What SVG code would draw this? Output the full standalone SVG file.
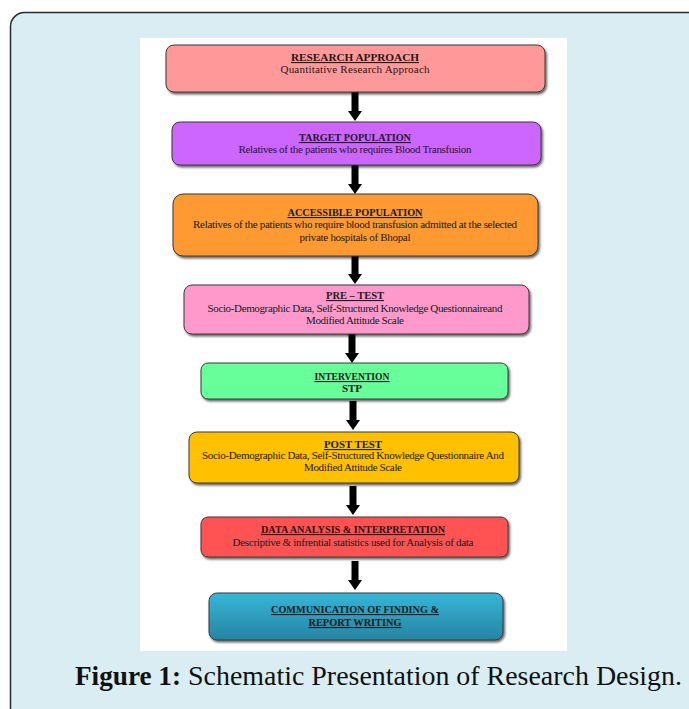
<svg xmlns="http://www.w3.org/2000/svg" width="689" height="709" viewBox="0 0 689 709">
<style>
.box{stroke:#3a3a3a;stroke-width:1;filter:url(#sh)}
.t{font-family:"Liberation Serif","Times New Roman",serif;font-size:11px;fill:#1a1a1a;text-anchor:middle}
.h{font-weight:bold;text-decoration:underline}
.cap{font-family:"Liberation Serif","DejaVu Serif",serif;font-size:27.5px;fill:#111}
</style>
<defs>
<filter id="sh" x="-5%" y="-20%" width="112%" height="150%">
<feDropShadow dx="1.5" dy="2" stdDeviation="1" flood-color="#000" flood-opacity="0.6"/>
</filter>
<linearGradient id="bl" x1="0" y1="0" x2="0" y2="1">
<stop offset="0" stop-color="#36B6D8"/>
<stop offset="1" stop-color="#2684A2"/>
</linearGradient>
<path id="arr" d="M-3.5 0 H3.5 V19 H7 L0 29 L-7 19 H-3.5 Z" fill="#000"/>
</defs>
<rect x="10.5" y="12.5" width="720" height="720" rx="14" fill="#D9EDF2" stroke="#2b2b2b" stroke-width="1.5"/>
<rect x="140" y="38" width="427" height="613" fill="#fff"/>

<g id="connectors">
<use href="#arr" x="355" y="92"/>
<use href="#arr" x="355" y="165"/>
<use href="#arr" x="355" y="255"/>
<use href="#arr" x="352" y="334"/>
<use href="#arr" x="353" y="401"/>
<use href="#arr" x="353" y="486"/>
<use href="#arr" x="355" y="561"/>
</g>

<g id="n1">
<rect class="box" x="166" y="45" width="379" height="47" rx="8" fill="#FF9999"/>
<text class="t h" x="355" y="61" textLength="128" lengthAdjust="spacingAndGlyphs">RESEARCH APPROACH</text>
<text class="t" x="355" y="73" textLength="149">Quantitative Research Approach</text>
</g>
<g id="n2">
<rect class="box" x="172" y="122" width="369" height="43" rx="8" fill="#CC66FF"/>
<text class="t h" x="355" y="141" textLength="112" lengthAdjust="spacingAndGlyphs">TARGET POPULATION</text>
<text class="t" x="355" y="153" textLength="233">Relatives of the patients who requires Blood Transfusion</text>
</g>
<g id="n3">
<rect class="box" x="173" y="194" width="365" height="62" rx="10" fill="#FF9933"/>
<text class="t h" x="355" y="216" textLength="135" lengthAdjust="spacingAndGlyphs">ACCESSIBLE POPULATION</text>
<text class="t" x="355" y="228" textLength="324">Relatives of the patients who require blood transfusion admitted at the selected</text>
<text class="t" x="355" y="241" textLength="111">private hospitals of Bhopal</text>
</g>
<g id="n4">
<rect class="box" x="184" y="285" width="345" height="49" rx="8" fill="#FF99CC"/>
<text class="t h" x="355" y="299" textLength="58" lengthAdjust="spacingAndGlyphs">PRE – TEST</text>
<text class="t" x="355" y="312" textLength="295">Socio-Demographic  Data, Self-Structured Knowledge Questionnaireand</text>
<text class="t" x="355" y="324" textLength="98">Modified Attitude Scale</text>
</g>
<g id="n5">
<rect class="box" x="201" y="363" width="307" height="36" rx="7" fill="#66FF99"/>
<text class="t h" x="352" y="380" textLength="75" lengthAdjust="spacingAndGlyphs">INTERVENTION</text>
<text class="t" x="352" y="392" font-weight="bold">STP</text>
</g>
<g id="n6">
<rect class="box" x="189" y="432" width="330" height="51" rx="8" fill="#FFC000"/>
<text class="t h" x="353" y="448" textLength="58" lengthAdjust="spacingAndGlyphs">POST TEST</text>
<text class="t" x="353" y="459" textLength="302">Socio-Demographic  Data, Self-Structured Knowledge Questionnaire And</text>
<text class="t" x="353" y="471" textLength="98">Modified Attitude Scale</text>
</g>
<g id="n7">
<rect class="box" x="201" y="517" width="307" height="40" rx="7" fill="#FF5353"/>
<text class="t h" x="353" y="533" textLength="184" lengthAdjust="spacingAndGlyphs">DATA ANALYSIS &amp; INTERPRETATION</text>
<text class="t" x="353" y="546" textLength="241">Descriptive  &amp; infrential statistics used for Analysis of data</text>
</g>
<g id="n8">
<rect class="box" x="209" y="593" width="294" height="47" rx="8" fill="url(#bl)"/>
<text class="t h" x="355" y="613" textLength="168" lengthAdjust="spacingAndGlyphs">COMMUNICATION  OF FINDING &amp;</text>
<text class="t h" x="355" y="626" textLength="93" lengthAdjust="spacingAndGlyphs">REPORT WRITING</text>
</g>

<text class="cap" x="75" y="685"><tspan font-weight="bold" textLength="106" lengthAdjust="spacingAndGlyphs">Figure 1:</tspan><tspan x="188" textLength="494" lengthAdjust="spacingAndGlyphs">Schematic Presentation of Research Design.</tspan></text>
</svg>
